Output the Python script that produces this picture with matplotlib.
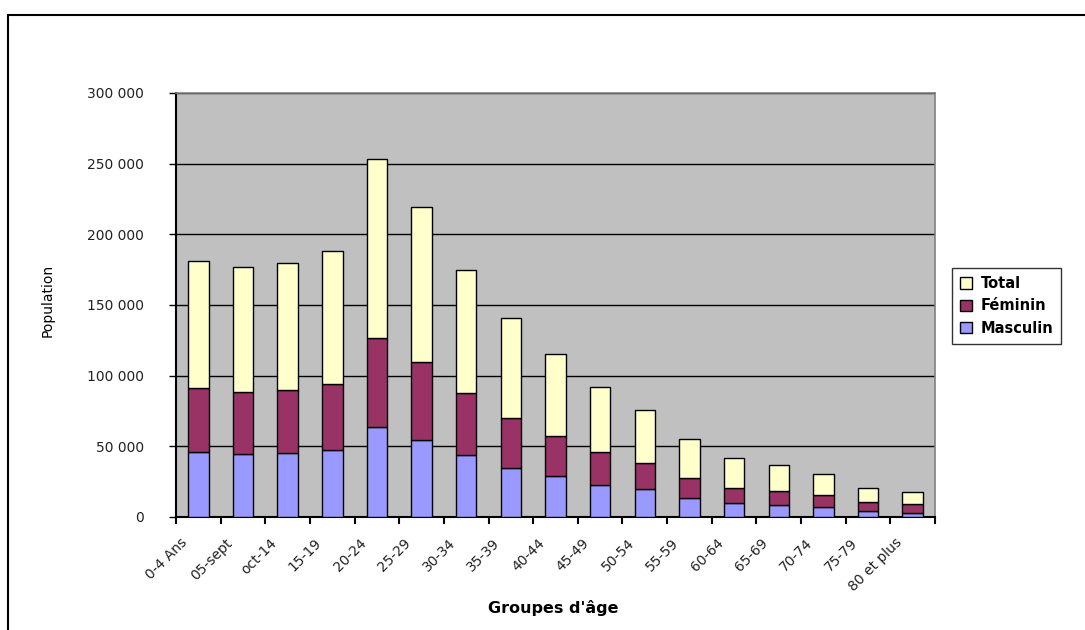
import matplotlib.pyplot as plt
import matplotlib.transforms as mtransforms
import numpy as np
from matplotlib.patches import Rectangle
from matplotlib.ticker import FuncFormatter

plt.rcParams['font.family'] = ['DejaVu Sans']

groupes = ['0-4 Ans', '05-sept', 'oct-14', '15-19', '20-24', '25-29', '30-34',
           '35-39', '40-44', '45-49', '50-54', '55-59', '60-64', '65-69',
           '70-74', '75-79', '80 et plus']
masculin = [46000, 44500, 45500, 47500, 63500, 54500, 43500, 35000, 29000,
            22500, 19500, 13500, 10000, 8700, 7000, 4300, 3000]
feminin = [45000, 44000, 44500, 46500, 63000, 55000, 44000, 35000, 28500,
           23500, 18500, 14000, 10800, 9800, 8200, 6000, 6000]
total = [90000, 88500, 90000, 94000, 127000, 110000, 87500, 70500, 57500,
         46000, 38000, 27500, 20700, 18200, 15200, 10300, 8700]

x = np.arange(len(groupes))
w = 0.46

fig = plt.figure(figsize=(10.85, 6.3), dpi=100)
ax = fig.add_axes([0.1622, 0.1794, 0.6996, 0.673])
ax.set_facecolor('#C0C0C0')

masc = np.array(masculin)
fem = np.array(feminin)
ax.bar(x, masc, w, color='#9999FF', edgecolor='black', linewidth=1, label='Masculin', zorder=3)
ax.bar(x, fem, w, bottom=masc, color='#993366', edgecolor='black', linewidth=1, label='Féminin', zorder=3)
ax.bar(x, total, w, bottom=masc + fem, color='#FFFFCC', edgecolor='black', linewidth=1, label='Total', zorder=3)

ax.set_xlim(-0.5, len(groupes) - 0.5)
ax.set_ylim(0, 300000)
ax.set_yticks(np.arange(0, 300001, 50000))
ax.yaxis.set_major_formatter(FuncFormatter(lambda v, p: f'{int(v):,}'.replace(',', ' ')))
ax.grid(axis='y', color='black', linewidth=1, zorder=1)

ax.set_xticks(x)
ax.set_xticks(np.arange(-0.5, len(groupes), 1), minor=True)
ax.tick_params(axis='x', which='major', length=0, pad=17)
ax.tick_params(axis='x', which='minor', length=5, width=1.5, direction='out')
ax.tick_params(axis='y', length=5, width=1, labelsize=10, pad=18, labelcolor='#222222')

# labels rotated, ending a bit left of the bar centre (Excel style)
ax.set_xticklabels(groupes, rotation=45, ha='right', va='center',
                   rotation_mode='anchor', fontsize=10, color='#222222')
shift = mtransforms.ScaledTranslation(-13 / 100, 0, fig.dpi_scale_trans)
for lab in ax.get_xticklabels():
    lab.set_transform(lab.get_transform() + shift)

for s in ['left', 'bottom']:
    ax.spines[s].set_linewidth(1.5)
for s in ['top', 'right']:
    ax.spines[s].set_color('#808080')
    ax.spines[s].set_linewidth(1.2)

ax.set_ylabel('Population', fontsize=10)
ax.yaxis.set_label_coords((55 - 176) / 759, (517 - 300) / 424)
ax.set_xlabel("Groupes d'âge", fontsize=11.5, fontweight='bold')
ax.xaxis.set_label_coords((553 - 176) / 759, (517 - 600) / 424)

handles, labels = ax.get_legend_handles_labels()
leg = fig.legend(handles[::-1], labels[::-1], loc='upper left',
                 bbox_to_anchor=(952 / 1085, 1 - 268 / 630),
                 frameon=True, fancybox=False, edgecolor='black',
                 prop={'weight': 'bold', 'size': 10.5},
                 handlelength=0.8, handleheight=0.8, handletextpad=0.6,
                 borderpad=0.55, labelspacing=0.5, borderaxespad=0)
leg.get_frame().set_linewidth(1)

fig.add_artist(Rectangle((8 / 1085, -0.05), 1.2, 1 - 15 / 630 + 0.05,
                         transform=fig.transFigure, fill=False,
                         edgecolor='black', linewidth=1.5))

fig.savefig('out.png', dpi=100)
